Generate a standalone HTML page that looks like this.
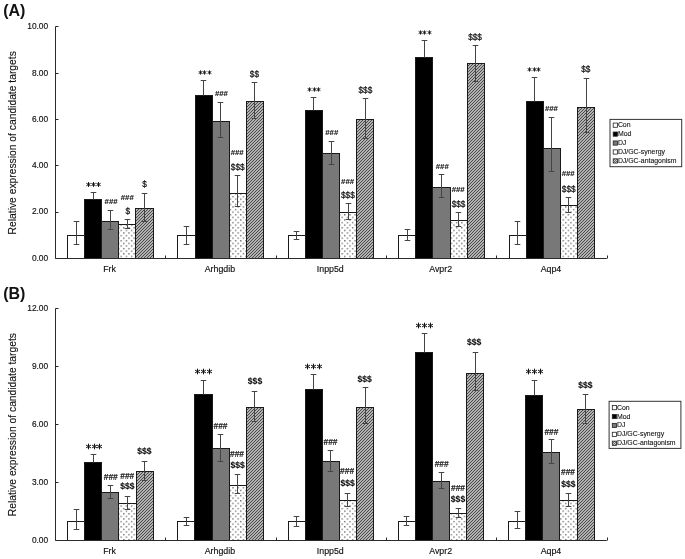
<!DOCTYPE html><html><head><meta charset="utf-8"><style>html,body{margin:0;padding:0;background:#fff;}svg{display:block;filter:grayscale(100%) blur(0.3px);}text{font-family:"Liberation Sans", sans-serif;}</style></head><body>
<svg width="685" height="559" viewBox="0 0 685 559">
<defs>
<pattern id="dots" patternUnits="userSpaceOnUse" width="5.2" height="5.2" x="0" y="0"><rect width="5.2" height="5.2" fill="#fff"/><rect x="1" y="1" width="1.2" height="1.2" fill="#4a4a4a"/><rect x="3.6" y="3.6" width="1.2" height="1.2" fill="#4a4a4a"/></pattern>
<pattern id="hatch" patternUnits="userSpaceOnUse" x="0" y="0" width="3" height="3"><rect width="3" height="3" fill="#b2b2b2"/><rect x="0" y="2" width="1" height="1" fill="#4a4a4a"/><rect x="1" y="1" width="1" height="1" fill="#4a4a4a"/><rect x="2" y="0" width="1" height="1" fill="#4a4a4a"/></pattern>
<pattern id="lhatch" patternUnits="userSpaceOnUse" width="2" height="2"><rect width="2" height="2" fill="#ccc"/><path d="M0,2 L2,0" stroke="#555" stroke-width="0.8"/></pattern>
</defs>
<rect width="685" height="559" fill="#fff"/>
<rect x="67.50" y="235.50" width="17.00" height="23.00" fill="#ffffff" stroke="#1a1a1a" stroke-width="1"/>
<rect x="84.50" y="199.50" width="17.00" height="59.00" fill="#000000" stroke="#1a1a1a" stroke-width="1"/>
<rect x="101.50" y="221.50" width="17.00" height="37.00" fill="#787878" stroke="#1a1a1a" stroke-width="1"/>
<rect x="118.50" y="224.50" width="17.00" height="34.00" fill="url(#dots)" stroke="#1a1a1a" stroke-width="1"/>
<rect x="135.50" y="208.50" width="18.00" height="50.00" fill="url(#hatch)" stroke="#1a1a1a" stroke-width="1"/>
<path d="M76.50,221.50 V244.50 M73.70,221.50 H79.30 M73.70,244.50 H79.30" stroke="#444" stroke-width="1" fill="none"/>
<path d="M93.50,192.50 V199.50 M90.70,192.50 H96.30" stroke="#444" stroke-width="1" fill="none"/>
<path d="M110.50,210.50 V229.50 M107.70,210.50 H113.30 M107.70,229.50 H113.30" stroke="#444" stroke-width="1" fill="none"/>
<path d="M127.50,219.50 V228.50 M124.70,219.50 H130.30 M124.70,228.50 H130.30" stroke="#444" stroke-width="1" fill="none"/>
<path d="M144.50,193.50 V221.50 M141.70,193.50 H147.30 M141.70,221.50 H147.30" stroke="#444" stroke-width="1" fill="none"/>
<rect x="177.50" y="235.50" width="18.00" height="23.00" fill="#ffffff" stroke="#1a1a1a" stroke-width="1"/>
<rect x="195.50" y="95.50" width="17.00" height="163.00" fill="#000000" stroke="#1a1a1a" stroke-width="1"/>
<rect x="212.50" y="121.50" width="17.00" height="137.00" fill="#787878" stroke="#1a1a1a" stroke-width="1"/>
<rect x="229.50" y="193.50" width="17.00" height="65.00" fill="url(#dots)" stroke="#1a1a1a" stroke-width="1"/>
<rect x="246.50" y="101.50" width="17.00" height="157.00" fill="url(#hatch)" stroke="#1a1a1a" stroke-width="1"/>
<path d="M186.50,226.50 V244.50 M183.70,226.50 H189.30 M183.70,244.50 H189.30" stroke="#444" stroke-width="1" fill="none"/>
<path d="M203.50,80.50 V95.50 M200.70,80.50 H206.30" stroke="#444" stroke-width="1" fill="none"/>
<path d="M220.50,102.50 V137.50 M217.70,102.50 H223.30 M217.70,137.50 H223.30" stroke="#444" stroke-width="1" fill="none"/>
<path d="M237.50,175.50 V206.50 M234.70,175.50 H240.30 M234.70,206.50 H240.30" stroke="#444" stroke-width="1" fill="none"/>
<path d="M254.50,82.50 V118.50 M251.70,82.50 H257.30 M251.70,118.50 H257.30" stroke="#444" stroke-width="1" fill="none"/>
<rect x="288.50" y="235.50" width="17.00" height="23.00" fill="#ffffff" stroke="#1a1a1a" stroke-width="1"/>
<rect x="305.50" y="110.50" width="17.00" height="148.00" fill="#000000" stroke="#1a1a1a" stroke-width="1"/>
<rect x="322.50" y="153.50" width="17.00" height="105.00" fill="#787878" stroke="#1a1a1a" stroke-width="1"/>
<rect x="339.50" y="212.50" width="17.00" height="46.00" fill="url(#dots)" stroke="#1a1a1a" stroke-width="1"/>
<rect x="356.50" y="119.50" width="17.00" height="139.00" fill="url(#hatch)" stroke="#1a1a1a" stroke-width="1"/>
<path d="M296.50,231.50 V239.50 M293.70,231.50 H299.30 M293.70,239.50 H299.30" stroke="#444" stroke-width="1" fill="none"/>
<path d="M313.50,97.50 V110.50 M310.70,97.50 H316.30" stroke="#444" stroke-width="1" fill="none"/>
<path d="M331.50,141.50 V164.50 M328.70,141.50 H334.30 M328.70,164.50 H334.30" stroke="#444" stroke-width="1" fill="none"/>
<path d="M348.50,203.50 V219.50 M345.70,203.50 H351.30 M345.70,219.50 H351.30" stroke="#444" stroke-width="1" fill="none"/>
<path d="M365.50,98.50 V138.50 M362.70,98.50 H368.30 M362.70,138.50 H368.30" stroke="#444" stroke-width="1" fill="none"/>
<rect x="398.50" y="235.50" width="17.00" height="23.00" fill="#ffffff" stroke="#1a1a1a" stroke-width="1"/>
<rect x="415.50" y="57.50" width="17.00" height="201.00" fill="#000000" stroke="#1a1a1a" stroke-width="1"/>
<rect x="432.50" y="187.50" width="18.00" height="71.00" fill="#787878" stroke="#1a1a1a" stroke-width="1"/>
<rect x="450.50" y="220.50" width="17.00" height="38.00" fill="url(#dots)" stroke="#1a1a1a" stroke-width="1"/>
<rect x="467.50" y="63.50" width="17.00" height="195.00" fill="url(#hatch)" stroke="#1a1a1a" stroke-width="1"/>
<path d="M407.50,229.50 V240.50 M404.70,229.50 H410.30 M404.70,240.50 H410.30" stroke="#444" stroke-width="1" fill="none"/>
<path d="M424.50,40.50 V57.50 M421.70,40.50 H427.30" stroke="#444" stroke-width="1" fill="none"/>
<path d="M441.50,174.50 V197.50 M438.70,174.50 H444.30 M438.70,197.50 H444.30" stroke="#444" stroke-width="1" fill="none"/>
<path d="M458.50,212.50 V226.50 M455.70,212.50 H461.30 M455.70,226.50 H461.30" stroke="#444" stroke-width="1" fill="none"/>
<path d="M475.50,45.50 V81.50 M472.70,45.50 H478.30 M472.70,81.50 H478.30" stroke="#444" stroke-width="1" fill="none"/>
<rect x="509.50" y="235.50" width="17.00" height="23.00" fill="#ffffff" stroke="#1a1a1a" stroke-width="1"/>
<rect x="526.50" y="101.50" width="17.00" height="157.00" fill="#000000" stroke="#1a1a1a" stroke-width="1"/>
<rect x="543.50" y="148.50" width="17.00" height="110.00" fill="#787878" stroke="#1a1a1a" stroke-width="1"/>
<rect x="560.50" y="205.50" width="17.00" height="53.00" fill="url(#dots)" stroke="#1a1a1a" stroke-width="1"/>
<rect x="577.50" y="107.50" width="17.00" height="151.00" fill="url(#hatch)" stroke="#1a1a1a" stroke-width="1"/>
<path d="M517.50,221.50 V244.50 M514.70,221.50 H520.30 M514.70,244.50 H520.30" stroke="#444" stroke-width="1" fill="none"/>
<path d="M534.50,77.50 V101.50 M531.70,77.50 H537.30" stroke="#444" stroke-width="1" fill="none"/>
<path d="M551.50,117.50 V171.50 M548.70,117.50 H554.30 M548.70,171.50 H554.30" stroke="#444" stroke-width="1" fill="none"/>
<path d="M568.50,197.50 V212.50 M565.70,197.50 H571.30 M565.70,212.50 H571.30" stroke="#444" stroke-width="1" fill="none"/>
<path d="M586.50,78.50 V132.50 M583.70,78.50 H589.30 M583.70,132.50 H589.30" stroke="#444" stroke-width="1" fill="none"/>
<path d="M55.50,26.50 V258.50 H606.80" stroke="#2a2a2a" stroke-width="1" fill="none"/>
<path d="M55.50,258.50 H58.50" stroke="#2a2a2a" stroke-width="1"/>
<text x="48.20" y="260.70" font-size="8.40" text-anchor="end" font-weight="normal" fill="#111" stroke="#111" stroke-width="0.15">0.00</text>
<path d="M55.50,212.50 H58.50" stroke="#2a2a2a" stroke-width="1"/>
<text x="48.20" y="214.40" font-size="8.40" text-anchor="end" font-weight="normal" fill="#111" stroke="#111" stroke-width="0.15">2.00</text>
<path d="M55.50,165.50 H58.50" stroke="#2a2a2a" stroke-width="1"/>
<text x="48.20" y="168.10" font-size="8.40" text-anchor="end" font-weight="normal" fill="#111" stroke="#111" stroke-width="0.15">4.00</text>
<path d="M55.50,119.50 H58.50" stroke="#2a2a2a" stroke-width="1"/>
<text x="48.20" y="121.80" font-size="8.40" text-anchor="end" font-weight="normal" fill="#111" stroke="#111" stroke-width="0.15">6.00</text>
<path d="M55.50,73.50 H58.50" stroke="#2a2a2a" stroke-width="1"/>
<text x="48.20" y="75.50" font-size="8.40" text-anchor="end" font-weight="normal" fill="#111" stroke="#111" stroke-width="0.15">8.00</text>
<path d="M55.50,26.50 H58.50" stroke="#2a2a2a" stroke-width="1"/>
<text x="48.20" y="29.20" font-size="8.40" text-anchor="end" font-weight="normal" fill="#111" stroke="#111" stroke-width="0.15">10.00</text>
<path d="M165.50,255.50 V258.50" stroke="#2a2a2a" stroke-width="1"/>
<path d="M276.50,255.50 V258.50" stroke="#2a2a2a" stroke-width="1"/>
<path d="M386.50,255.50 V258.50" stroke="#2a2a2a" stroke-width="1"/>
<path d="M496.50,255.50 V258.50" stroke="#2a2a2a" stroke-width="1"/>
<path d="M607.50,255.50 V258.50" stroke="#2a2a2a" stroke-width="1"/>
<text x="109.58" y="271.80" font-size="8.80" text-anchor="middle" font-weight="normal" fill="#111" stroke="#111" stroke-width="0.15">Frk</text>
<text x="219.92" y="271.80" font-size="8.80" text-anchor="middle" font-weight="normal" fill="#111" stroke="#111" stroke-width="0.15">Arhgdib</text>
<text x="330.27" y="271.80" font-size="8.80" text-anchor="middle" font-weight="normal" fill="#111" stroke="#111" stroke-width="0.15">Inpp5d</text>
<text x="440.62" y="271.80" font-size="8.80" text-anchor="middle" font-weight="normal" fill="#111" stroke="#111" stroke-width="0.15">Avpr2</text>
<text x="550.98" y="271.80" font-size="8.80" text-anchor="middle" font-weight="normal" fill="#111" stroke="#111" stroke-width="0.15">Aqp4</text>
<text x="0.00" y="0.00" font-size="10.30" text-anchor="middle" font-weight="normal" fill="#111" stroke="#111" stroke-width="0.12" transform="translate(15.6,142.80) rotate(-90)">Relative expression of candidate targets</text>
<text x="3.20" y="15.50" font-size="16.00" text-anchor="start" font-weight="bold" fill="#111">(A)</text>
<rect x="610.00" y="119.40" width="71.70" height="47.30" fill="#fff" stroke="#333" stroke-width="1"/>
<rect x="613.20" y="123.07" width="4.2" height="4.2" fill="#ffffff" stroke="#222" stroke-width="0.8"/>
<text x="617.90" y="127.17" font-size="6.90" text-anchor="start" font-weight="normal" fill="#111" stroke="#111" stroke-width="0.10">Con</text>
<rect x="613.20" y="132.01" width="4.2" height="4.2" fill="#000000" stroke="#222" stroke-width="0.8"/>
<text x="617.90" y="136.11" font-size="6.90" text-anchor="start" font-weight="normal" fill="#111" stroke="#111" stroke-width="0.10">Mod</text>
<rect x="613.20" y="140.95" width="4.2" height="4.2" fill="#787878" stroke="#222" stroke-width="0.8"/>
<text x="617.90" y="145.05" font-size="6.90" text-anchor="start" font-weight="normal" fill="#111" stroke="#111" stroke-width="0.10">DJ</text>
<rect x="613.20" y="149.89" width="4.2" height="4.2" fill="#fff" stroke="#222" stroke-width="0.8"/>
<text x="617.90" y="153.99" font-size="6.90" text-anchor="start" font-weight="normal" fill="#111" stroke="#111" stroke-width="0.10">DJ/GC-synergy</text>
<rect x="613.20" y="158.83" width="4.2" height="4.2" fill="url(#lhatch)" stroke="#222" stroke-width="0.8"/>
<text x="617.90" y="162.93" font-size="6.90" text-anchor="start" font-weight="normal" fill="#111" stroke="#111" stroke-width="0.10">DJ/GC-antagonism</text>
<path d="M88.50,182.10V186.90M86.42,183.30L90.58,185.70M86.42,185.70L90.58,183.30M93.50,182.10V186.90M91.42,183.30L95.58,185.70M91.42,185.70L95.58,183.30M98.50,182.10V186.90M96.42,183.30L100.58,185.70M96.42,185.70L100.58,183.30" stroke="#111" stroke-width="1.00" fill="none"/>
<text x="111.10" y="204.06" font-size="7.80" text-anchor="middle" font-weight="bold" fill="#111" stroke="#111" stroke-width="0.10">###</text>
<text x="127.30" y="199.66" font-size="7.80" text-anchor="middle" font-weight="bold" fill="#111" stroke="#111" stroke-width="0.10">###</text>
<text x="127.80" y="214.04" font-size="8.20" text-anchor="middle" font-weight="normal" fill="#111" stroke="#111" stroke-width="0.22">$</text>
<text x="144.50" y="187.44" font-size="8.20" text-anchor="middle" font-weight="normal" fill="#111" stroke="#111" stroke-width="0.22">$</text>
<path d="M200.50,70.35V74.65M198.64,71.42L202.36,73.58M198.64,73.58L202.36,71.42M204.50,70.35V74.65M202.64,71.42L206.36,73.58M202.64,73.58L206.36,71.42M209.50,70.35V74.65M207.64,71.42L211.36,73.58M207.64,73.58L211.36,71.42" stroke="#111" stroke-width="0.90" fill="none"/>
<text x="221.40" y="95.96" font-size="7.80" text-anchor="middle" font-weight="bold" fill="#111" stroke="#111" stroke-width="0.10">###</text>
<text x="237.20" y="155.16" font-size="7.80" text-anchor="middle" font-weight="bold" fill="#111" stroke="#111" stroke-width="0.10">###</text>
<text x="237.70" y="170.14" font-size="8.20" text-anchor="middle" font-weight="normal" fill="#111" stroke="#111" stroke-width="0.22">$$$</text>
<text x="254.40" y="76.74" font-size="8.20" text-anchor="middle" font-weight="normal" fill="#111" stroke="#111" stroke-width="0.22">$$</text>
<path d="M309.50,87.35V91.65M307.64,88.42L311.36,90.58M307.64,90.58L311.36,88.42M314.50,87.35V91.65M312.64,88.42L316.36,90.58M312.64,90.58L316.36,88.42M318.50,87.35V91.65M316.64,88.42L320.36,90.58M316.64,90.58L320.36,88.42" stroke="#111" stroke-width="0.90" fill="none"/>
<text x="331.80" y="135.46" font-size="7.80" text-anchor="middle" font-weight="bold" fill="#111" stroke="#111" stroke-width="0.10">###</text>
<text x="347.60" y="183.76" font-size="7.80" text-anchor="middle" font-weight="bold" fill="#111" stroke="#111" stroke-width="0.10">###</text>
<text x="347.90" y="198.24" font-size="8.20" text-anchor="middle" font-weight="normal" fill="#111" stroke="#111" stroke-width="0.22">$$$</text>
<text x="365.40" y="93.04" font-size="8.20" text-anchor="middle" font-weight="normal" fill="#111" stroke="#111" stroke-width="0.22">$$$</text>
<path d="M420.50,30.35V34.65M418.64,31.43L422.36,33.58M418.64,33.58L422.36,31.43M424.50,30.35V34.65M422.64,31.43L426.36,33.58M422.64,33.58L426.36,31.43M429.50,30.35V34.65M427.64,31.43L431.36,33.58M427.64,33.58L431.36,31.43" stroke="#111" stroke-width="0.90" fill="none"/>
<text x="442.30" y="168.76" font-size="7.80" text-anchor="middle" font-weight="bold" fill="#111" stroke="#111" stroke-width="0.10">###</text>
<text x="458.20" y="191.96" font-size="7.80" text-anchor="middle" font-weight="bold" fill="#111" stroke="#111" stroke-width="0.10">###</text>
<text x="458.50" y="207.14" font-size="8.20" text-anchor="middle" font-weight="normal" fill="#111" stroke="#111" stroke-width="0.22">$$$</text>
<text x="475.10" y="39.74" font-size="8.20" text-anchor="middle" font-weight="normal" fill="#111" stroke="#111" stroke-width="0.22">$$$</text>
<path d="M529.50,67.35V71.65M527.64,68.42L531.36,70.58M527.64,70.58L531.36,68.42M534.50,67.35V71.65M532.64,68.42L536.36,70.58M532.64,70.58L536.36,68.42M538.50,67.35V71.65M536.64,68.42L540.36,70.58M536.64,70.58L540.36,68.42" stroke="#111" stroke-width="0.90" fill="none"/>
<text x="551.40" y="110.96" font-size="7.80" text-anchor="middle" font-weight="bold" fill="#111" stroke="#111" stroke-width="0.10">###</text>
<text x="568.20" y="175.96" font-size="7.80" text-anchor="middle" font-weight="bold" fill="#111" stroke="#111" stroke-width="0.10">###</text>
<text x="568.70" y="191.64" font-size="8.20" text-anchor="middle" font-weight="normal" fill="#111" stroke="#111" stroke-width="0.22">$$$</text>
<text x="585.80" y="71.54" font-size="8.20" text-anchor="middle" font-weight="normal" fill="#111" stroke="#111" stroke-width="0.22">$$</text>
<rect x="67.50" y="521.50" width="17.00" height="19.00" fill="#ffffff" stroke="#1a1a1a" stroke-width="1"/>
<rect x="84.50" y="462.50" width="17.00" height="78.00" fill="#000000" stroke="#1a1a1a" stroke-width="1"/>
<rect x="101.50" y="492.50" width="17.00" height="48.00" fill="#787878" stroke="#1a1a1a" stroke-width="1"/>
<rect x="118.50" y="503.50" width="18.00" height="37.00" fill="url(#dots)" stroke="#1a1a1a" stroke-width="1"/>
<rect x="136.50" y="471.50" width="17.00" height="69.00" fill="url(#hatch)" stroke="#1a1a1a" stroke-width="1"/>
<path d="M76.50,509.50 V529.50 M73.70,509.50 H79.30 M73.70,529.50 H79.30" stroke="#444" stroke-width="1" fill="none"/>
<path d="M93.50,454.50 V462.50 M90.70,454.50 H96.30" stroke="#444" stroke-width="1" fill="none"/>
<path d="M110.50,485.50 V498.50 M107.70,485.50 H113.30 M107.70,498.50 H113.30" stroke="#444" stroke-width="1" fill="none"/>
<path d="M127.50,496.50 V509.50 M124.70,496.50 H130.30 M124.70,509.50 H130.30" stroke="#444" stroke-width="1" fill="none"/>
<path d="M144.50,461.50 V480.50 M141.70,461.50 H147.30 M141.70,480.50 H147.30" stroke="#444" stroke-width="1" fill="none"/>
<rect x="177.50" y="521.50" width="17.00" height="19.00" fill="#ffffff" stroke="#1a1a1a" stroke-width="1"/>
<rect x="194.50" y="394.50" width="18.00" height="146.00" fill="#000000" stroke="#1a1a1a" stroke-width="1"/>
<rect x="212.50" y="448.50" width="17.00" height="92.00" fill="#787878" stroke="#1a1a1a" stroke-width="1"/>
<rect x="229.50" y="485.50" width="17.00" height="55.00" fill="url(#dots)" stroke="#1a1a1a" stroke-width="1"/>
<rect x="246.50" y="407.50" width="17.00" height="133.00" fill="url(#hatch)" stroke="#1a1a1a" stroke-width="1"/>
<path d="M186.50,517.50 V525.50 M183.70,517.50 H189.30 M183.70,525.50 H189.30" stroke="#444" stroke-width="1" fill="none"/>
<path d="M203.50,380.50 V394.50 M200.70,380.50 H206.30" stroke="#444" stroke-width="1" fill="none"/>
<path d="M220.50,434.50 V461.50 M217.70,434.50 H223.30 M217.70,461.50 H223.30" stroke="#444" stroke-width="1" fill="none"/>
<path d="M237.50,474.50 V493.50 M234.70,474.50 H240.30 M234.70,493.50 H240.30" stroke="#444" stroke-width="1" fill="none"/>
<path d="M254.50,391.50 V421.50 M251.70,391.50 H257.30 M251.70,421.50 H257.30" stroke="#444" stroke-width="1" fill="none"/>
<rect x="288.50" y="521.50" width="17.00" height="19.00" fill="#ffffff" stroke="#1a1a1a" stroke-width="1"/>
<rect x="305.50" y="389.50" width="17.00" height="151.00" fill="#000000" stroke="#1a1a1a" stroke-width="1"/>
<rect x="322.50" y="461.50" width="17.00" height="79.00" fill="#787878" stroke="#1a1a1a" stroke-width="1"/>
<rect x="339.50" y="500.50" width="17.00" height="40.00" fill="url(#dots)" stroke="#1a1a1a" stroke-width="1"/>
<rect x="356.50" y="407.50" width="17.00" height="133.00" fill="url(#hatch)" stroke="#1a1a1a" stroke-width="1"/>
<path d="M296.50,516.50 V526.50 M293.70,516.50 H299.30 M293.70,526.50 H299.30" stroke="#444" stroke-width="1" fill="none"/>
<path d="M313.50,374.50 V389.50 M310.70,374.50 H316.30" stroke="#444" stroke-width="1" fill="none"/>
<path d="M330.50,450.50 V471.50 M327.70,450.50 H333.30 M327.70,471.50 H333.30" stroke="#444" stroke-width="1" fill="none"/>
<path d="M347.50,493.50 V506.50 M344.70,493.50 H350.30 M344.70,506.50 H350.30" stroke="#444" stroke-width="1" fill="none"/>
<path d="M365.50,387.50 V423.50 M362.70,387.50 H368.30 M362.70,423.50 H368.30" stroke="#444" stroke-width="1" fill="none"/>
<rect x="398.50" y="521.50" width="17.00" height="19.00" fill="#ffffff" stroke="#1a1a1a" stroke-width="1"/>
<rect x="415.50" y="352.50" width="17.00" height="188.00" fill="#000000" stroke="#1a1a1a" stroke-width="1"/>
<rect x="432.50" y="481.50" width="17.00" height="59.00" fill="#787878" stroke="#1a1a1a" stroke-width="1"/>
<rect x="449.50" y="513.50" width="17.00" height="27.00" fill="url(#dots)" stroke="#1a1a1a" stroke-width="1"/>
<rect x="466.50" y="373.50" width="17.00" height="167.00" fill="url(#hatch)" stroke="#1a1a1a" stroke-width="1"/>
<path d="M406.50,516.50 V525.50 M403.70,516.50 H409.30 M403.70,525.50 H409.30" stroke="#444" stroke-width="1" fill="none"/>
<path d="M424.50,333.50 V352.50 M421.70,333.50 H427.30" stroke="#444" stroke-width="1" fill="none"/>
<path d="M441.50,472.50 V488.50 M438.70,472.50 H444.30 M438.70,488.50 H444.30" stroke="#444" stroke-width="1" fill="none"/>
<path d="M458.50,508.50 V517.50 M455.70,508.50 H461.30 M455.70,517.50 H461.30" stroke="#444" stroke-width="1" fill="none"/>
<path d="M475.50,352.50 V390.50 M472.70,352.50 H478.30 M472.70,390.50 H478.30" stroke="#444" stroke-width="1" fill="none"/>
<rect x="508.50" y="521.50" width="17.00" height="19.00" fill="#ffffff" stroke="#1a1a1a" stroke-width="1"/>
<rect x="525.50" y="395.50" width="17.00" height="145.00" fill="#000000" stroke="#1a1a1a" stroke-width="1"/>
<rect x="542.50" y="452.50" width="17.00" height="88.00" fill="#787878" stroke="#1a1a1a" stroke-width="1"/>
<rect x="559.50" y="500.50" width="18.00" height="40.00" fill="url(#dots)" stroke="#1a1a1a" stroke-width="1"/>
<rect x="577.50" y="409.50" width="17.00" height="131.00" fill="url(#hatch)" stroke="#1a1a1a" stroke-width="1"/>
<path d="M517.50,511.50 V528.50 M514.70,511.50 H520.30 M514.70,528.50 H520.30" stroke="#444" stroke-width="1" fill="none"/>
<path d="M534.50,380.50 V395.50 M531.70,380.50 H537.30" stroke="#444" stroke-width="1" fill="none"/>
<path d="M551.50,439.50 V463.50 M548.70,439.50 H554.30 M548.70,463.50 H554.30" stroke="#444" stroke-width="1" fill="none"/>
<path d="M568.50,493.50 V506.50 M565.70,493.50 H571.30 M565.70,506.50 H571.30" stroke="#444" stroke-width="1" fill="none"/>
<path d="M585.50,394.50 V423.50 M582.70,394.50 H588.30 M582.70,423.50 H588.30" stroke="#444" stroke-width="1" fill="none"/>
<path d="M55.50,308.50 V540.50 H606.80" stroke="#2a2a2a" stroke-width="1" fill="none"/>
<path d="M55.50,540.50 H58.50" stroke="#2a2a2a" stroke-width="1"/>
<text x="48.20" y="543.20" font-size="8.40" text-anchor="end" font-weight="normal" fill="#111" stroke="#111" stroke-width="0.15">0.00</text>
<path d="M55.50,482.50 H58.50" stroke="#2a2a2a" stroke-width="1"/>
<text x="48.20" y="485.15" font-size="8.40" text-anchor="end" font-weight="normal" fill="#111" stroke="#111" stroke-width="0.15">3.00</text>
<path d="M55.50,424.50 H58.50" stroke="#2a2a2a" stroke-width="1"/>
<text x="48.20" y="427.10" font-size="8.40" text-anchor="end" font-weight="normal" fill="#111" stroke="#111" stroke-width="0.15">6.00</text>
<path d="M55.50,366.50 H58.50" stroke="#2a2a2a" stroke-width="1"/>
<text x="48.20" y="369.05" font-size="8.40" text-anchor="end" font-weight="normal" fill="#111" stroke="#111" stroke-width="0.15">9.00</text>
<path d="M55.50,308.50 H58.50" stroke="#2a2a2a" stroke-width="1"/>
<text x="48.20" y="311.00" font-size="8.40" text-anchor="end" font-weight="normal" fill="#111" stroke="#111" stroke-width="0.15">12.00</text>
<path d="M165.50,537.50 V540.50" stroke="#2a2a2a" stroke-width="1"/>
<path d="M276.50,537.50 V540.50" stroke="#2a2a2a" stroke-width="1"/>
<path d="M386.50,537.50 V540.50" stroke="#2a2a2a" stroke-width="1"/>
<path d="M496.50,537.50 V540.50" stroke="#2a2a2a" stroke-width="1"/>
<path d="M607.50,537.50 V540.50" stroke="#2a2a2a" stroke-width="1"/>
<text x="109.58" y="554.30" font-size="8.80" text-anchor="middle" font-weight="normal" fill="#111" stroke="#111" stroke-width="0.15">Frk</text>
<text x="219.92" y="554.30" font-size="8.80" text-anchor="middle" font-weight="normal" fill="#111" stroke="#111" stroke-width="0.15">Arhgdib</text>
<text x="330.27" y="554.30" font-size="8.80" text-anchor="middle" font-weight="normal" fill="#111" stroke="#111" stroke-width="0.15">Inpp5d</text>
<text x="440.62" y="554.30" font-size="8.80" text-anchor="middle" font-weight="normal" fill="#111" stroke="#111" stroke-width="0.15">Avpr2</text>
<text x="550.98" y="554.30" font-size="8.80" text-anchor="middle" font-weight="normal" fill="#111" stroke="#111" stroke-width="0.15">Aqp4</text>
<text x="0.00" y="0.00" font-size="10.30" text-anchor="middle" font-weight="normal" fill="#111" stroke="#111" stroke-width="0.12" transform="translate(15.6,424.60) rotate(-90)">Relative expression of candidate targets</text>
<text x="3.20" y="298.50" font-size="16.00" text-anchor="start" font-weight="bold" fill="#111">(B)</text>
<rect x="609.10" y="401.30" width="71.80" height="47.10" fill="#fff" stroke="#333" stroke-width="1"/>
<rect x="612.30" y="405.55" width="4.2" height="4.2" fill="#ffffff" stroke="#222" stroke-width="0.8"/>
<text x="617.00" y="409.65" font-size="6.90" text-anchor="start" font-weight="normal" fill="#111" stroke="#111" stroke-width="0.10">Con</text>
<rect x="612.30" y="414.45" width="4.2" height="4.2" fill="#000000" stroke="#222" stroke-width="0.8"/>
<text x="617.00" y="418.55" font-size="6.90" text-anchor="start" font-weight="normal" fill="#111" stroke="#111" stroke-width="0.10">Mod</text>
<rect x="612.30" y="423.35" width="4.2" height="4.2" fill="#787878" stroke="#222" stroke-width="0.8"/>
<text x="617.00" y="427.45" font-size="6.90" text-anchor="start" font-weight="normal" fill="#111" stroke="#111" stroke-width="0.10">DJ</text>
<rect x="612.30" y="432.25" width="4.2" height="4.2" fill="#fff" stroke="#222" stroke-width="0.8"/>
<text x="617.00" y="436.35" font-size="6.90" text-anchor="start" font-weight="normal" fill="#111" stroke="#111" stroke-width="0.10">DJ/GC-synergy</text>
<rect x="612.30" y="441.15" width="4.2" height="4.2" fill="url(#lhatch)" stroke="#222" stroke-width="0.8"/>
<text x="617.00" y="445.25" font-size="6.90" text-anchor="start" font-weight="normal" fill="#111" stroke="#111" stroke-width="0.10">DJ/GC-antagonism</text>
<path d="M88.50,443.65V449.35M86.03,445.07L90.97,447.93M86.03,447.93L90.97,445.07M94.50,443.65V449.35M92.03,445.07L96.97,447.93M92.03,447.93L96.97,445.07M99.50,443.65V449.35M97.03,445.07L101.97,447.93M97.03,447.93L101.97,445.07" stroke="#111" stroke-width="1.00" fill="none"/>
<text x="110.80" y="480.47" font-size="8.40" text-anchor="middle" font-weight="bold" fill="#111" stroke="#111" stroke-width="0.10">###</text>
<text x="127.30" y="478.67" font-size="8.40" text-anchor="middle" font-weight="bold" fill="#111" stroke="#111" stroke-width="0.10">###</text>
<text x="127.30" y="489.41" font-size="8.60" text-anchor="middle" font-weight="bold" fill="#111" stroke="#111" stroke-width="0.10">$$$</text>
<text x="144.40" y="453.61" font-size="8.60" text-anchor="middle" font-weight="bold" fill="#111" stroke="#111" stroke-width="0.10">$$$</text>
<path d="M197.50,368.65V374.35M195.03,370.07L199.97,372.93M195.03,372.93L199.97,370.07M203.50,368.65V374.35M201.03,370.07L205.97,372.93M201.03,372.93L205.97,370.07M209.50,368.65V374.35M207.03,370.07L211.97,372.93M207.03,372.93L211.97,370.07" stroke="#111" stroke-width="1.00" fill="none"/>
<text x="220.50" y="428.87" font-size="8.40" text-anchor="middle" font-weight="bold" fill="#111" stroke="#111" stroke-width="0.10">###</text>
<text x="237.00" y="457.17" font-size="8.40" text-anchor="middle" font-weight="bold" fill="#111" stroke="#111" stroke-width="0.10">###</text>
<text x="237.60" y="467.61" font-size="8.60" text-anchor="middle" font-weight="bold" fill="#111" stroke="#111" stroke-width="0.10">$$$</text>
<text x="255.00" y="384.21" font-size="8.60" text-anchor="middle" font-weight="bold" fill="#111" stroke="#111" stroke-width="0.10">$$$</text>
<path d="M307.50,363.65V369.35M305.03,365.07L309.97,367.93M305.03,367.93L309.97,365.07M313.50,363.65V369.35M311.03,365.07L315.97,367.93M311.03,367.93L315.97,365.07M319.50,363.65V369.35M317.03,365.07L321.97,367.93M317.03,367.93L321.97,365.07" stroke="#111" stroke-width="1.00" fill="none"/>
<text x="330.50" y="444.97" font-size="8.40" text-anchor="middle" font-weight="bold" fill="#111" stroke="#111" stroke-width="0.10">###</text>
<text x="347.10" y="474.47" font-size="8.40" text-anchor="middle" font-weight="bold" fill="#111" stroke="#111" stroke-width="0.10">###</text>
<text x="347.60" y="486.21" font-size="8.60" text-anchor="middle" font-weight="bold" fill="#111" stroke="#111" stroke-width="0.10">$$$</text>
<text x="364.70" y="381.51" font-size="8.60" text-anchor="middle" font-weight="bold" fill="#111" stroke="#111" stroke-width="0.10">$$$</text>
<path d="M418.50,322.65V328.35M416.03,324.07L420.97,326.93M416.03,326.93L420.97,324.07M424.50,322.65V328.35M422.03,324.07L426.97,326.93M422.03,326.93L426.97,324.07M430.50,322.65V328.35M428.03,324.07L432.97,326.93M428.03,326.93L432.97,324.07" stroke="#111" stroke-width="1.00" fill="none"/>
<text x="441.70" y="466.97" font-size="8.40" text-anchor="middle" font-weight="bold" fill="#111" stroke="#111" stroke-width="0.10">###</text>
<text x="458.00" y="490.57" font-size="8.40" text-anchor="middle" font-weight="bold" fill="#111" stroke="#111" stroke-width="0.10">###</text>
<text x="458.00" y="501.91" font-size="8.60" text-anchor="middle" font-weight="bold" fill="#111" stroke="#111" stroke-width="0.10">$$$</text>
<text x="474.20" y="345.11" font-size="8.60" text-anchor="middle" font-weight="bold" fill="#111" stroke="#111" stroke-width="0.10">$$$</text>
<path d="M528.50,368.65V374.35M526.03,370.07L530.97,372.93M526.03,372.93L530.97,370.07M534.50,368.65V374.35M532.03,370.07L536.97,372.93M532.03,372.93L536.97,370.07M540.50,368.65V374.35M538.03,370.07L542.97,372.93M538.03,372.93L542.97,370.07" stroke="#111" stroke-width="1.00" fill="none"/>
<text x="551.40" y="435.27" font-size="8.40" text-anchor="middle" font-weight="bold" fill="#111" stroke="#111" stroke-width="0.10">###</text>
<text x="568.00" y="475.27" font-size="8.40" text-anchor="middle" font-weight="bold" fill="#111" stroke="#111" stroke-width="0.10">###</text>
<text x="568.40" y="487.21" font-size="8.60" text-anchor="middle" font-weight="bold" fill="#111" stroke="#111" stroke-width="0.10">$$$</text>
<text x="585.40" y="388.31" font-size="8.60" text-anchor="middle" font-weight="bold" fill="#111" stroke="#111" stroke-width="0.10">$$$</text>
</svg></body></html>
